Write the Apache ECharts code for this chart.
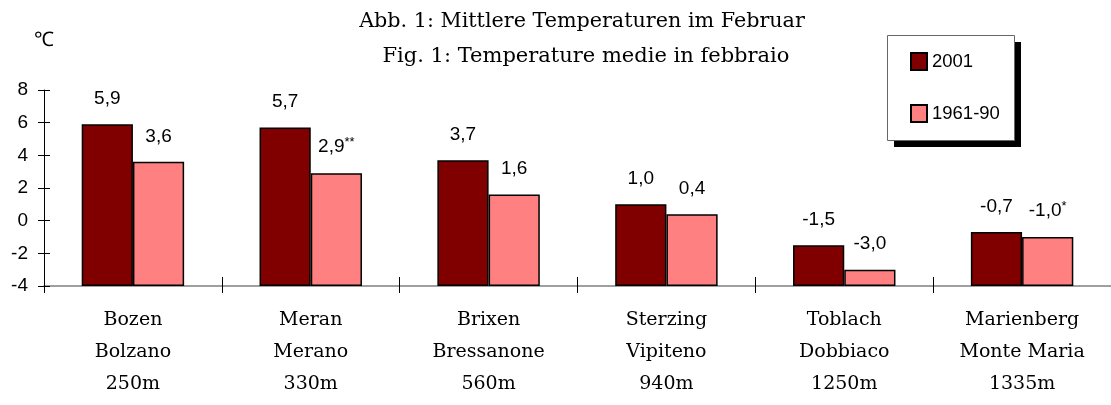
<!DOCTYPE html>
<html><head><meta charset="utf-8">
<script src="https://cdn.jsdelivr.net/npm/echarts@6/dist/echarts.min.js"></script>
<style>html,body{margin:0;padding:0;background:#fff}#c{width:1111px;height:405px}</style>
</head><body><div id="c"></div>
<script>
const namesDe = ['Bozen', 'Meran', 'Brixen', 'Sterzing', 'Toblach', 'Marienberg'];
const namesIt = ['Bolzano', 'Merano', 'Bressanone', 'Vipiteno', 'Dobbiaco', 'Monte Maria'];
const altitudes = ['250m', '330m', '560m', '940m', '1250m', '1335m'];
const values2001 = [5.9, 5.7, 3.7, 1.0, -1.5, -0.7];
const values1961 = [3.6, 2.9, 1.6, 0.4, -3.0, -1.0];
const notes1961 = ['', '**', '', '', '', '*'];
const seriesNames = ['2001', '1961-90'];
const yMin = -4, yMax = 8, yStep = 2;

const SERIF = 'DejaVu Serif';
const SANS = 'Liberation Sans, Arial, sans-serif';
const fmt = v => v.toFixed(1).replace('.', ',');

const chart = echarts.init(document.getElementById('c'), null, {renderer: 'canvas'});
const catLabels = namesDe.map((n, i) => n + '\n' + namesIt[i] + '\n' + altitudes[i]);

const labelBase = {
  show: true, position: 'top', distance: 16,
  fontFamily: SANS, fontSize: 19, color: '#000',
  rich: {s: {fontFamily: SANS, fontSize: 13, color: '#000', padding: [0, 0, 8, 0]}}
};

chart.setOption({
  animation: false,
  backgroundColor: '#fff',
  title: [
    {text: 'Abb. 1: Mittlere Temperaturen im Februar', left: 577, top: 6, textAlign: 'center',
     textStyle: {fontFamily: SERIF, fontSize: 20.7, fontWeight: 'normal', color: '#000'}},
    {text: 'Fig. 1: Temperature medie in febbraio', left: 581, top: 41, textAlign: 'center',
     textStyle: {fontFamily: SERIF, fontSize: 21, fontWeight: 'normal', color: '#000'}}
  ],
  graphic: [
    {type: 'rect', z: 1, silent: true, shape: {x: 894, y: 42, width: 127, height: 105}, style: {fill: '#000'}},
    {type: 'rect', z: 2, silent: true, shape: {x: 887.5, y: 35.5, width: 127, height: 105}, style: {fill: '#fff', stroke: '#666', lineWidth: 1}}
  ],
  legend: {
    orient: 'vertical', left: 887, top: 35, z: 10,
    itemWidth: 16, itemHeight: 17, itemGap: 33,
    padding: [17, 17, 21, 23],
    icon: 'rect',
    textStyle: {fontFamily: SANS, fontSize: 18.5, color: '#000'},
    data: seriesNames
  },
  grid: {left: 44, right: -6, top: 90, bottom: 119, containLabel: false},
  xAxis: [
    {type: 'category', data: catLabels, position: 'bottom',
     axisLine: {onZero: false, lineStyle: {color: '#808080', width: 1.5}},
     axisTick: {show: true, length: 7, lineStyle: {color: '#000', width: 1}},
     axisLabel: {interval: 0, margin: 18, fontFamily: SERIF, fontSize: 19, lineHeight: 32, color: '#000'},
     splitLine: {show: false}},
    {type: 'category', data: catLabels, position: 'bottom', offset: 0,
     axisLine: {show: false, onZero: false},
     axisTick: {show: true, inside: true, length: 9, lineStyle: {color: '#000', width: 1}},
     axisLabel: {show: false}, splitLine: {show: false}}
  ],
  yAxis: [
    {type: 'value', min: yMin, max: yMax, interval: yStep, startValue: yMin, position: 'left',
     name: '\u2103', nameLocation: 'end', nameGap: 40,
     nameTextStyle: {fontFamily: SANS, fontSize: 20, color: '#000'},
     axisLine: {show: true, lineStyle: {color: '#000', width: 1}},
     axisTick: {show: true, length: 6, lineStyle: {color: '#000', width: 1}},
     axisLabel: {margin: 16, fontFamily: SANS, fontSize: 19, color: '#000'},
     splitLine: {show: false}},
    {type: 'value', min: yMin, max: yMax, interval: yStep, position: 'left', offset: 0,
     axisLine: {show: false},
     axisTick: {show: true, inside: true, length: 6, lineStyle: {color: '#000', width: 1}},
     axisLabel: {show: false}, splitLine: {show: false}}
  ],
  series: [
    {name: seriesNames[0], type: 'bar', data: values2001, barGap: '0%', barCategoryGap: '42.4%',
     itemStyle: {color: '#800000', borderColor: '#000', borderWidth: 1.5},
     label: Object.assign({}, labelBase, {formatter: p => fmt(p.value)})},
    {name: seriesNames[1], type: 'bar', data: values1961, barGap: '0%', barCategoryGap: '42.4%',
     itemStyle: {color: '#FF8080', borderColor: '#000', borderWidth: 1.5},
     label: Object.assign({}, labelBase, {formatter: p => fmt(p.value) + (notes1961[p.dataIndex] ? '{s|' + notes1961[p.dataIndex] + '}' : '')})}
  ]
});
</script></body></html>
